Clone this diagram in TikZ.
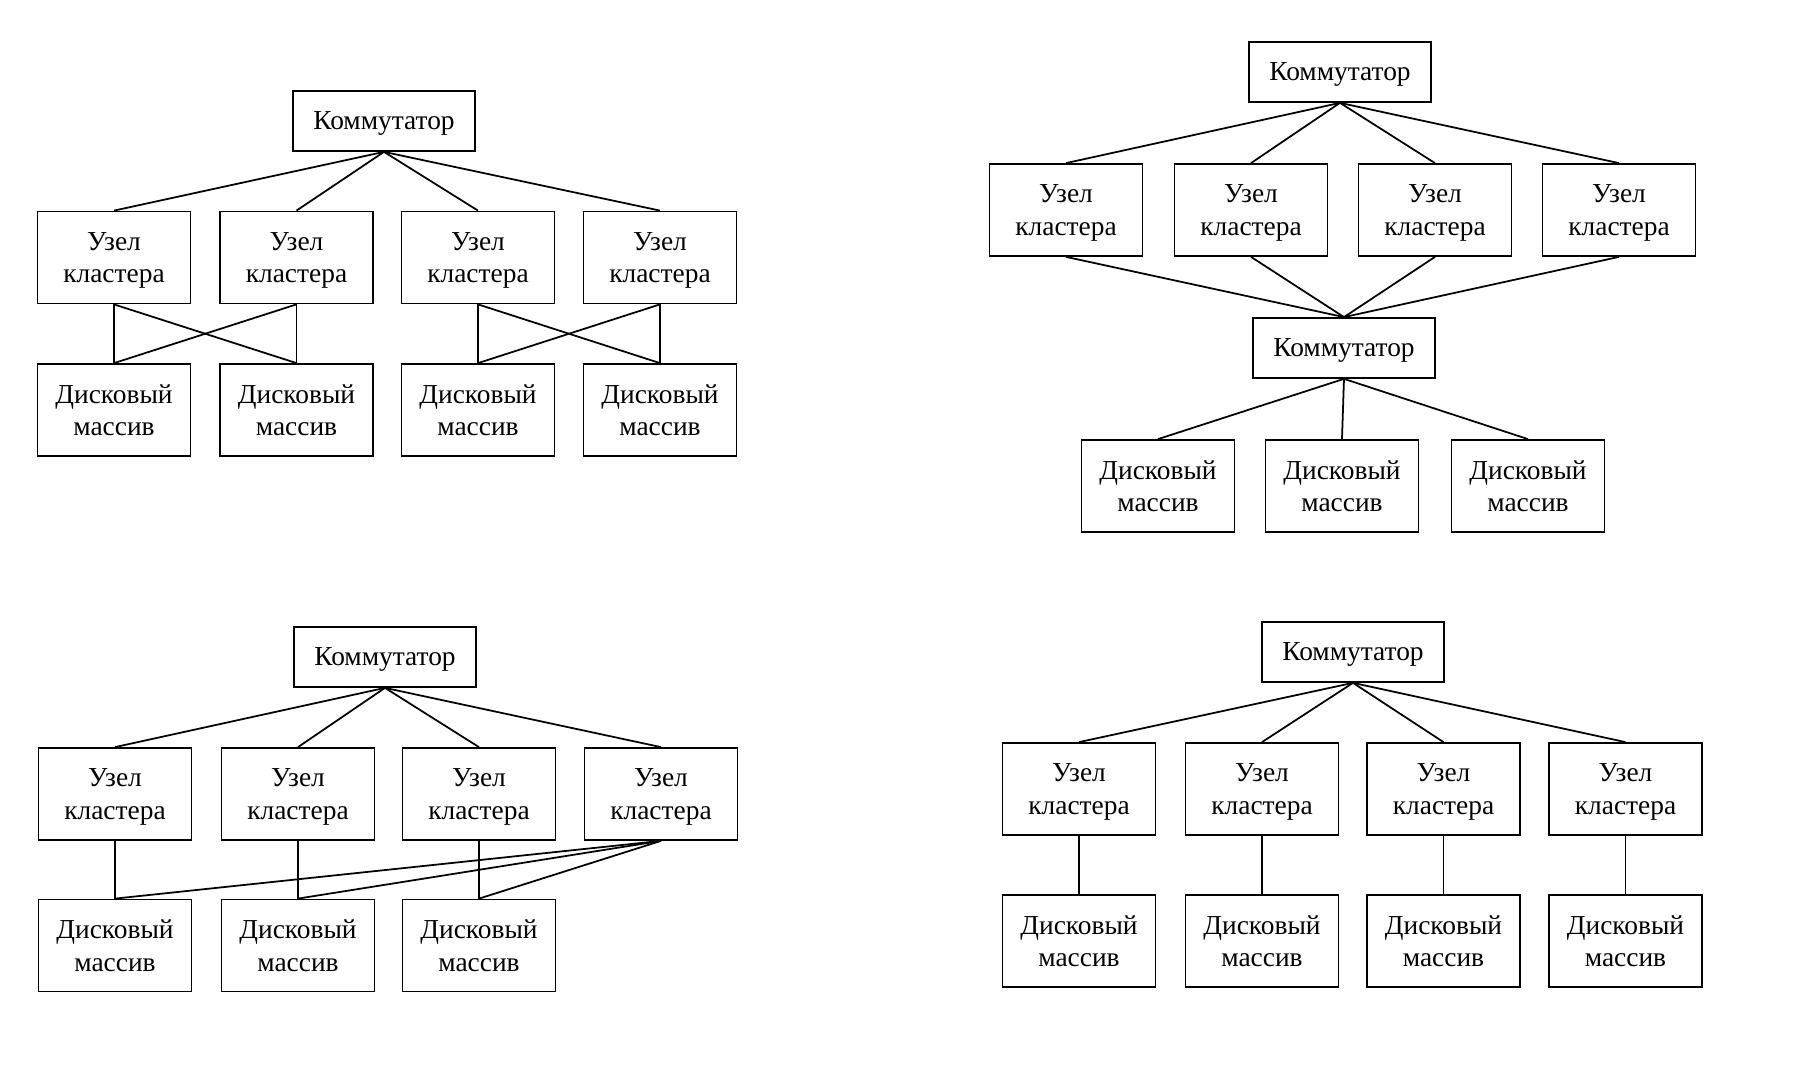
\documentclass[tikz,border=0pt]{standalone}
\usepackage{fontspec}
\setmainfont{Liberation Serif}
\begin{document}
\begin{tikzpicture}[x=0.1mm, y=-0.1mm, line width=0.5pt,
  every node/.style={font=\fontsize{7.8}{9.3}\selectfont, align=center, inner sep=0pt, text depth=0pt},
  sw/.style={draw, line width=0.5pt, minimum width=1.82cm, minimum height=0.60cm},
  unit/.style={draw, line width=0.5pt, minimum width=1.53cm, minimum height=0.92cm}]
\useasboundingbox (0,0) rectangle (1804,1082);
% top left: cross-connected disk arrays
\node[sw] (kA) at (384,121) {Коммутатор};
\node[unit] (uA1) at (114,257.5) {Узел\\кластера};
\node[unit] (uA2) at (296.5,257.5) {Узел\\кластера};
\node[unit] (uA3) at (478,257.5) {Узел\\кластера};
\node[unit] (uA4) at (660,257.5) {Узел\\кластера};
\node[unit] (dA1) at (114,410) {Дисковый\\массив};
\node[unit] (dA2) at (296.5,410) {Дисковый\\массив};
\node[unit] (dA3) at (478,410) {Дисковый\\массив};
\node[unit] (dA4) at (660,410) {Дисковый\\массив};
\draw (kA.south) -- (uA1.north);
\draw (kA.south) -- (uA2.north);
\draw (kA.south) -- (uA3.north);
\draw (kA.south) -- (uA4.north);
\draw (uA1.south) -- (dA1.north);
\draw (uA1.south) -- (dA2.north);
\draw (uA2.south) -- (dA1.north);
\draw (uA2.south) -- (dA2.north);
\draw (uA3.south) -- (dA3.north);
\draw (uA3.south) -- (dA4.north);
\draw (uA4.south) -- (dA3.north);
\draw (uA4.south) -- (dA4.north);
% top right: second switch in front of the disks
\node[sw] (kB1) at (1340,72) {Коммутатор};
\node[unit] (uB1) at (1066,210) {Узел\\кластера};
\node[unit] (uB2) at (1251,210) {Узел\\кластера};
\node[unit] (uB3) at (1435,210) {Узел\\кластера};
\node[unit] (uB4) at (1619,210) {Узел\\кластера};
\node[sw] (kB2) at (1344,348) {Коммутатор};
\node[unit] (dB1) at (1158,486) {Дисковый\\массив};
\node[unit] (dB2) at (1342,486) {Дисковый\\массив};
\node[unit] (dB3) at (1528,486) {Дисковый\\массив};
\draw (kB1.south) -- (uB1.north);
\draw (kB1.south) -- (uB2.north);
\draw (kB1.south) -- (uB3.north);
\draw (kB1.south) -- (uB4.north);
\draw (uB1.south) -- (kB2.north);
\draw (uB2.south) -- (kB2.north);
\draw (uB3.south) -- (kB2.north);
\draw (uB4.south) -- (kB2.north);
\draw (kB2.south) -- (dB1.north);
\draw (kB2.south) -- (dB2.north);
\draw (kB2.south) -- (dB3.north);
% bottom left: one node reaches every disk array
\node[sw] (kC) at (385,657) {Коммутатор};
\node[unit] (uC1) at (115,794) {Узел\\кластера};
\node[unit] (uC2) at (298,794) {Узел\\кластера};
\node[unit] (uC3) at (479,794) {Узел\\кластера};
\node[unit] (uC4) at (661,794) {Узел\\кластера};
\node[unit] (dC1) at (115,945.5) {Дисковый\\массив};
\node[unit] (dC2) at (298,945.5) {Дисковый\\массив};
\node[unit] (dC3) at (479,945.5) {Дисковый\\массив};
\draw (kC.south) -- (uC1.north);
\draw (kC.south) -- (uC2.north);
\draw (kC.south) -- (uC3.north);
\draw (kC.south) -- (uC4.north);
\draw (uC1.south) -- (dC1.north);
\draw (uC2.south) -- (dC2.north);
\draw (uC3.south) -- (dC3.north);
\draw (uC4.south) -- (dC1.north);
\draw (uC4.south) -- (dC2.north);
\draw (uC4.south) -- (dC3.north);
% bottom right: one disk array per node
\node[sw] (kD) at (1353,652) {Коммутатор};
\node[unit] (uD1) at (1079,789) {Узел\\кластера};
\node[unit] (uD2) at (1262,789) {Узел\\кластера};
\node[unit] (uD3) at (1443.5,789) {Узел\\кластера};
\node[unit] (uD4) at (1625.5,789) {Узел\\кластера};
\node[unit] (dD1) at (1079,941) {Дисковый\\массив};
\node[unit] (dD2) at (1262,941) {Дисковый\\массив};
\node[unit] (dD3) at (1443.5,941) {Дисковый\\массив};
\node[unit] (dD4) at (1625.5,941) {Дисковый\\массив};
\draw (kD.south) -- (uD1.north);
\draw (kD.south) -- (uD2.north);
\draw (kD.south) -- (uD3.north);
\draw (kD.south) -- (uD4.north);
\draw (uD1.south) -- (dD1.north);
\draw (uD2.south) -- (dD2.north);
\draw (uD3.south) -- (dD3.north);
\draw (uD4.south) -- (dD4.north);
\end{tikzpicture}
\end{document}
